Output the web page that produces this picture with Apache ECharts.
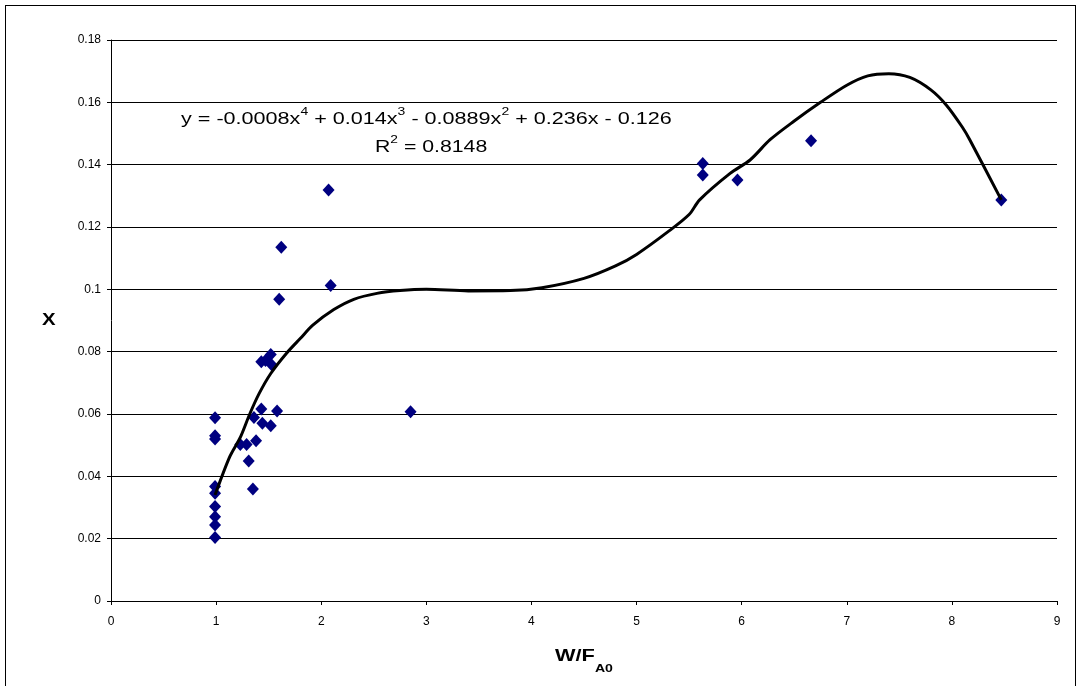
<!DOCTYPE html>
<html>
<head>
<meta charset="utf-8">
<script src="https://cdn.jsdelivr.net/npm/echarts@6/dist/echarts.min.js"></script>
<style>
  html, body { margin: 0; padding: 0; background: #fff; }
  #frame { position: absolute; left: 5px; top: 5px; width: 1071px; height: 700px;
           border: 1px solid #000; border-bottom: none; box-sizing: border-box; }
  #chart { position: absolute; left: 0; top: 0; width: 1081px; height: 686px; }
</style>
</head>
<body>
<div id="frame"></div>
<div id="chart"></div>
<script>
// measured points (W/FA0, X)
const wf = [0.99, 0.99, 0.99, 0.99, 0.99, 0.99, 0.99, 0.99, 0.99,
  1.23, 1.29, 1.38, 1.31, 1.35, 1.36, 1.43, 1.44, 1.52, 1.58,
  1.43, 1.47, 1.52, 1.53, 1.60, 1.62, 2.07, 2.09, 2.85,
  5.63, 5.63, 5.96, 6.66, 8.47];
const conv = [0.0588, 0.0530, 0.0520, 0.0367, 0.0346, 0.0303, 0.0270, 0.0244, 0.0204,
  0.0502, 0.0502, 0.0514, 0.0449, 0.0359, 0.0589, 0.0616, 0.0570, 0.0562, 0.0610,
  0.0768, 0.0772, 0.0791, 0.0757, 0.0968, 0.1135, 0.1319, 0.1012, 0.0607,
  0.1404, 0.1367, 0.1351, 0.1477, 0.1287];

// trend line
const trendX = [0.99, 1.13, 1.23, 1.32, 1.41, 1.52, 1.67, 1.80, 1.92, 2.12, 2.31, 2.53, 2.75,
  3.0, 3.4, 3.8, 4.1, 4.5, 4.8, 5.0, 5.3, 5.5, 5.6, 5.89, 6.08, 6.27, 6.5, 6.75,
  7.0, 7.2, 7.4, 7.6, 7.8, 7.95, 8.1, 8.17, 8.47];
const trendY = [0.0340, 0.0463, 0.0525, 0.0600, 0.0666, 0.0730, 0.0795, 0.0842, 0.0885, 0.0935, 0.0968, 0.0987, 0.0996,
  0.1000, 0.0995, 0.0996, 0.1005, 0.1035, 0.1075, 0.1112, 0.1185, 0.1240, 0.1287, 0.1372, 0.1415, 0.1480, 0.1540, 0.1600,
  0.1655, 0.1685, 0.1692, 0.1680, 0.1640, 0.1590, 0.1520, 0.1480, 0.1287];

const xTicks = [0, 1, 2, 3, 4, 5, 6, 7, 8, 9];
const yTicks = [0, 0.02, 0.04, 0.06, 0.08, 0.1, 0.12, 0.14, 0.16, 0.18];

let myChart = echarts.init(document.getElementById('chart'));
let eqRich = {
  n: { font: '17px "Liberation Sans"', lineHeight: 22, verticalAlign: 'bottom' },
  s: { font: '11px "Liberation Sans"', lineHeight: 22, verticalAlign: 'top' }
};
let option = {
  animation: false,
  grid: { left: 111, top: 40, right: 24, bottom: 85 },
  xAxis: {
    type: 'value',
    min: xTicks[0], max: xTicks[xTicks.length - 1], interval: 1,
    axisLine: { lineStyle: { color: '#000', width: 1 } },
    axisTick: { show: true, length: 4, lineStyle: { color: '#000' } },
    axisLabel: { color: '#000', fontSize: 12, fontFamily: 'Liberation Sans', margin: 15 },
    splitLine: { show: false }
  },
  yAxis: {
    type: 'value',
    min: yTicks[0], max: yTicks[yTicks.length - 1], interval: 0.02,
    axisLine: { show: true, lineStyle: { color: '#000', width: 1 } },
    axisTick: { show: true, length: 4, lineStyle: { color: '#000' } },
    axisLabel: { color: '#000', fontSize: 12, fontFamily: 'Liberation Sans', margin: 10,
      formatter: v => String(+v.toFixed(2)) },
    splitLine: { show: true, lineStyle: { color: '#000', width: 1 } }
  },
  graphic: [
    { type: 'text', x: 42, y: 312, scaleX: 1.2,
      style: { text: 'X', font: 'bold 17px "Liberation Sans"', fill: '#000' } },
    { type: 'text', x: 555, y: 648, scaleX: 1.28,
      style: { text: '{a|W/F}{b|A0}', fill: '#000',
        rich: { a: { font: 'bold 17px "Liberation Sans"', lineHeight: 26, verticalAlign: 'top' },
                b: { font: 'bold 11px "Liberation Sans"', lineHeight: 26, verticalAlign: 'bottom' } } } },
    { type: 'text', x: 181, y: 106, scaleX: 1.27,
      style: { fill: '#000',
        text: '{n|y = -0.0008x}{s|4}{n| + 0.014x}{s|3}{n| - 0.0889x}{s|2}{n| + 0.236x - 0.126}',
        rich: eqRich } },
    { type: 'text', x: 375, y: 134, scaleX: 1.25,
      style: { fill: '#000', text: '{n|R}{s|2}{n| = 0.8148}', rich: eqRich } }
  ],
  series: [
    {
      type: 'scatter',
      data: wf.map((x, i) => [x, conv[i]]),
      symbol: 'diamond',
      symbolSize: [12, 13],
      itemStyle: { color: '#000080', opacity: 1 },
      z: 2
    },
    {
      type: 'line',
      data: trendX.map((x, i) => [x, trendY[i]]),
      smooth: 0.3,
      showSymbol: false,
      lineStyle: { color: '#000', width: 3 },
      z: 3
    }
  ]
};
myChart.setOption(option);
</script>
</body>
</html>
